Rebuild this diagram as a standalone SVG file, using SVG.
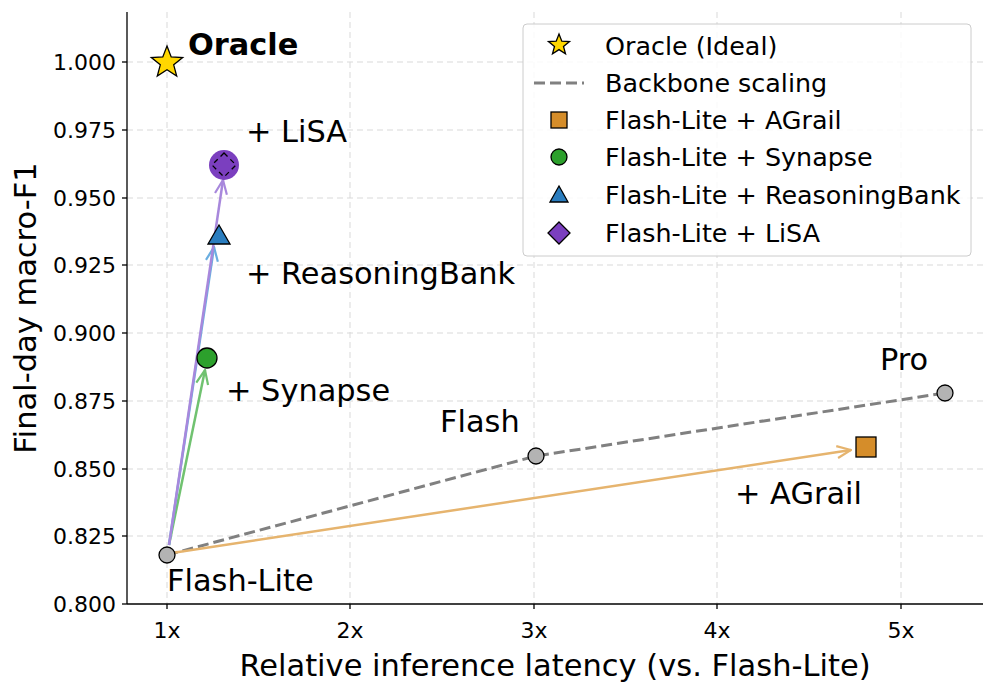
<svg xmlns="http://www.w3.org/2000/svg" width="996" height="693" viewBox="0 0 996 693">
<style>
text{font-family:"DejaVu Sans",sans-serif;fill:#000}
.tk{font-size:22px}
.ax{font-size:30.5px}
.an{font-size:30.4px}
.lg{font-size:25.4px}
.grid line{stroke:#d9d9d9;stroke-width:1;stroke-dasharray:6,4}
.mk{stroke:#000;stroke-width:1.3}
</style>
<defs>
<marker id="ah2" viewBox="0 0 16 16" refX="15" refY="8" markerWidth="16" markerHeight="16" markerUnits="userSpaceOnUse" orient="auto"><path d="M1,2 L15,8 L1,14" fill="none" stroke="context-stroke" stroke-width="2.2"/></marker>
</defs>
<rect width="996" height="693" fill="#fff"/>
<g class="grid">
<line x1="167" y1="12" x2="167" y2="604"/><line x1="350" y1="12" x2="350" y2="604"/><line x1="534" y1="12" x2="534" y2="604"/><line x1="717" y1="12" x2="717" y2="604"/><line x1="901" y1="12" x2="901" y2="604"/>
<line x1="127" y1="62" x2="983" y2="62"/><line x1="127" y1="130" x2="983" y2="130"/><line x1="127" y1="198" x2="983" y2="198"/><line x1="127" y1="265" x2="983" y2="265"/><line x1="127" y1="333" x2="983" y2="333"/><line x1="127" y1="401" x2="983" y2="401"/><line x1="127" y1="469" x2="983" y2="469"/><line x1="127" y1="536" x2="983" y2="536"/>
</g>
<g id="axes" stroke="#000" stroke-width="1.3">
<line x1="127" y1="12" x2="127" y2="604"/><line x1="127" y1="604" x2="983" y2="604"/>
<line x1="167" y1="604" x2="167" y2="609"/><line x1="350" y1="604" x2="350" y2="609"/><line x1="534" y1="604" x2="534" y2="609"/><line x1="717" y1="604" x2="717" y2="609"/><line x1="901" y1="604" x2="901" y2="609"/>
<line x1="122" y1="62" x2="127" y2="62"/><line x1="122" y1="130" x2="127" y2="130"/><line x1="122" y1="198" x2="127" y2="198"/><line x1="122" y1="265" x2="127" y2="265"/><line x1="122" y1="333" x2="127" y2="333"/><line x1="122" y1="401" x2="127" y2="401"/><line x1="122" y1="469" x2="127" y2="469"/><line x1="122" y1="536" x2="127" y2="536"/><line x1="122" y1="604" x2="127" y2="604"/>
</g>
<g id="ticks" class="tk">
<g text-anchor="middle"><text x="167" y="638">1x</text><text x="350" y="638">2x</text><text x="534" y="638">3x</text><text x="717" y="638">4x</text><text x="901" y="638">5x</text></g>
<g text-anchor="end"><text x="116" y="70">1.000</text><text x="116" y="138">0.975</text><text x="116" y="206">0.950</text><text x="116" y="273">0.925</text><text x="116" y="341">0.900</text><text x="116" y="409">0.875</text><text x="116" y="477">0.850</text><text x="116" y="544">0.825</text><text x="116" y="612">0.800</text></g>
</g>
<text class="ax" x="555" y="676" text-anchor="middle">Relative inference latency (vs. Flash-Lite)</text>
<text class="ax" transform="translate(36 308) rotate(-90)" text-anchor="middle">Final-day macro-F1</text>
<g id="connectors" fill="none">
<polyline points="167,555 536,456 945,393" stroke="#808080" stroke-width="3" stroke-dasharray="11,5"/>
<line x1="172" y1="553" x2="851" y2="450" stroke="#e6b46e" stroke-width="2.5" marker-end="url(#ah2)"/>
<line x1="169" y1="545" x2="205" y2="370" stroke="#70c270" stroke-width="2.5" marker-end="url(#ah2)"/>
<line x1="169" y1="545" x2="214" y2="247" stroke="#6aaee0" stroke-width="2.5" marker-end="url(#ah2)"/>
<line x1="169" y1="545" x2="223" y2="180" stroke="#a888dc" stroke-width="2.5" marker-end="url(#ah2)"/>
</g>
<g id="flashlite"><circle class="mk" cx="167" cy="555" r="8" fill="#b3b3b3"/><text class="an" x="167" y="591">Flash-Lite</text></g>
<g id="flash"><circle class="mk" cx="536" cy="456" r="8" fill="#b3b3b3"/><text class="an" x="440" y="432">Flash</text></g>
<g id="pro"><circle class="mk" cx="945" cy="393" r="8" fill="#b3b3b3"/><text class="an" x="880" y="370">Pro</text></g>
<g id="agrail"><rect class="mk" x="856" y="437" width="20" height="20" fill="#d58d2a"/><text class="an" x="735" y="504">+ AGrail</text></g>
<g id="synapse"><circle class="mk" cx="207" cy="358" r="10" fill="#2ca02c"/><text class="an" x="226" y="401">+ Synapse</text></g>
<g id="rbank"><polygon class="mk" points="219,225 230,244 208,244" fill="#2a7dbf"/><text class="an" x="246" y="284">+ ReasoningBank</text></g>
<g id="lisa"><circle cx="224" cy="165" r="15" fill="#7b3fbf"/><polygon points="224,153 236,165 224,177 212,165" fill="#7b3fbf" stroke="#000" stroke-width="1.3" stroke-dasharray="5,4"/><text class="an" x="246" y="142">+ LiSA</text></g>
<g id="oracle"><polygon class="mk" points="167,46 171.2,56.9 182.7,57.5 173.7,64.8 176.7,76 167,69.7 157.3,76 160.3,64.8 151.3,57.5 162.8,56.9" fill="#ffd700"/><text class="an" x="188" y="55" font-weight="bold">Oracle</text></g>
<g id="legend">
<rect x="523" y="24" width="448" height="232" rx="4" fill="#fff" fill-opacity="0.85" stroke="#ccc"/>
<polygon class="mk" points="559,34 561.8,41.2 569.5,41.6 563.5,46.4 565.5,53.8 559,49.6 552.5,53.8 554.5,46.4 548.5,41.6 556.2,41.2" fill="#ffd700"/>
<line x1="534" y1="83" x2="584" y2="83" stroke="#808080" stroke-width="3" stroke-dasharray="11,5"/>
<rect class="mk" x="551" y="112" width="16" height="16" fill="#d58d2a"/>
<circle class="mk" cx="559" cy="157" r="8" fill="#2ca02c"/>
<polygon class="mk" points="559,186 568,202 550,202" fill="#2a7dbf"/>
<polygon class="mk" points="559,222 570,233 559,244 548,233" fill="#7b3fbf"/>
<g class="lg"><text x="605" y="55">Oracle (Ideal)</text><text x="605" y="92">Backbone scaling</text><text x="605" y="129">Flash-Lite + AGrail</text><text x="605" y="166">Flash-Lite + Synapse</text><text x="605" y="204">Flash-Lite + ReasoningBank</text><text x="605" y="242">Flash-Lite + LiSA</text></g>
</g>
</svg>
